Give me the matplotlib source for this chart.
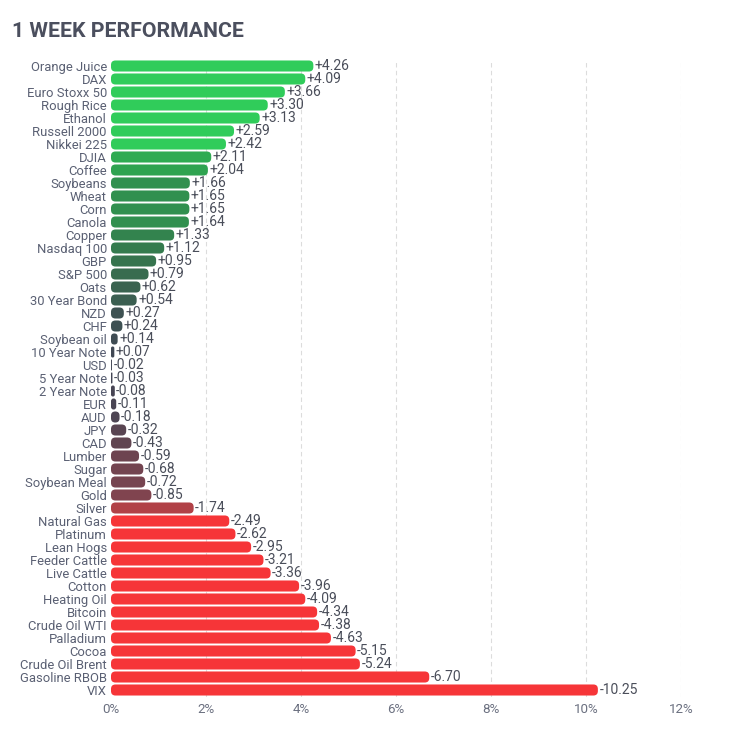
import matplotlib
matplotlib.use("Agg")
import matplotlib.pyplot as plt
from matplotlib.patches import FancyBboxPatch
from matplotlib.colors import to_rgb
import numpy as np

plt.rcParams['font.family'] = ['Roboto', 'DejaVu Sans']

names = ["Orange Juice", "DAX", "Euro Stoxx 50", "Rough Rice", "Ethanol", "Russell 2000",
         "Nikkei 225", "DJIA", "Coffee", "Soybeans", "Wheat", "Corn", "Canola", "Copper",
         "Nasdaq 100", "GBP", "S&P 500", "Oats", "30 Year Bond", "NZD", "CHF", "Soybean oil",
         "10 Year Note", "USD", "5 Year Note", "2 Year Note", "EUR", "AUD", "JPY", "CAD",
         "Lumber", "Sugar", "Soybean Meal", "Gold", "Silver", "Natural Gas", "Platinum",
         "Lean Hogs", "Feeder Cattle", "Live Cattle", "Cotton", "Heating Oil", "Bitcoin",
         "Crude Oil WTI", "Palladium", "Cocoa", "Crude Oil Brent", "Gasoline RBOB", "VIX"]
values = [4.26, 4.09, 3.66, 3.30, 3.13, 2.59, 2.42, 2.11, 2.04, 1.66, 1.65, 1.65, 1.64, 1.33,
          1.12, 0.95, 0.79, 0.62, 0.54, 0.27, 0.24, 0.14, 0.07, -0.02, -0.03, -0.08, -0.11,
          -0.18, -0.32, -0.43, -0.59, -0.68, -0.72, -0.85, -1.74, -2.49, -2.62, -2.95, -3.21,
          -3.36, -3.96, -4.09, -4.34, -4.38, -4.63, -5.15, -5.24, -6.70, -10.25]
xticks = [0, 2, 4, 6, 8, 10, 12]

pos_stops = [(0, "#414554"), (1, "#35764e"), (2, "#2f9e4f"), (2.4, "#30cc5a")]
neg_stops = [(0, "#414554"), (1, "#8b444e"), (2, "#bf4045"), (2.4, "#f63538")]

def color_for(v):
    stops = pos_stops if v >= 0 else neg_stops
    a = abs(v)
    if a >= stops[-1][0]:
        return to_rgb(stops[-1][1])
    for (x0, c0), (x1, c1) in zip(stops[:-1], stops[1:]):
        if x0 <= a <= x1:
            t = (a - x0) / (x1 - x0)
            c0, c1 = np.array(to_rgb(c0)), np.array(to_rgb(c1))
            return tuple(c0 + (c1 - c0) * t)
    return to_rgb(stops[0][1])

fig = plt.figure(figsize=(7.30, 7.31), dpi=100)
ax = fig.add_axes([111/730, 1 - 696.5/731, (681-111)/730, (696.5-59.5)/731])

n = len(names)
y = np.arange(n)
mags = [abs(v) for v in values]
bars = ax.barh(y, mags, height=0.85, color=[color_for(v) for v in values])

# convert to rounded bars
r_px = 4.5
for rect, v in zip(bars.patches, values):
    x0, y0 = rect.get_x(), rect.get_y()
    w, h = rect.get_width(), rect.get_height()
    w = max(w, 0.02)
    r = min(r_px / 47.5, w / 2)
    fb = FancyBboxPatch((x0, y0), w, h,
                        boxstyle=f"round,pad=0,rounding_size={r}",
                        mutation_aspect=(1/13.0) / (1/47.5),
                        facecolor=rect.get_facecolor(), edgecolor='none', zorder=2)
    ax.add_patch(fb)
    rect.remove()

for yi, v in zip(y, values):
    ax.text(abs(v) + 0.03, yi, f"{v:+.2f}", va='center', ha='left',
            fontsize=10, color='#4a4e5a', zorder=3)

ax.set_xlim(0, 12)
ax.set_ylim(n - 0.5, -0.5)
ax.set_yticks(y)
ax.set_yticklabels(names, fontsize=9.4, color='#5a6073')
ax.set_xticks(xticks)
ax.set_xticklabels([f"{t}%" for t in xticks], fontsize=9.6, color='#6b7080')
ax.tick_params(axis='both', length=0, pad=3)
ax.tick_params(axis='x', pad=5)
for s in ax.spines.values():
    s.set_visible(False)
ax.grid(axis='x', color='#dcdcdc', linestyle=(0, (4, 3)), linewidth=0.8, zorder=0)
ax.set_axisbelow(True)
ax.xaxis.get_gridlines()[0].set_visible(False)

fig.text(12/730, 1 - 37/731, "1 WEEK PERFORMANCE", fontsize=15.3, fontweight='bold',
         color='#4b4f5e', ha='left', va='baseline')

fig.savefig("out.png", dpi=100, facecolor='white')
